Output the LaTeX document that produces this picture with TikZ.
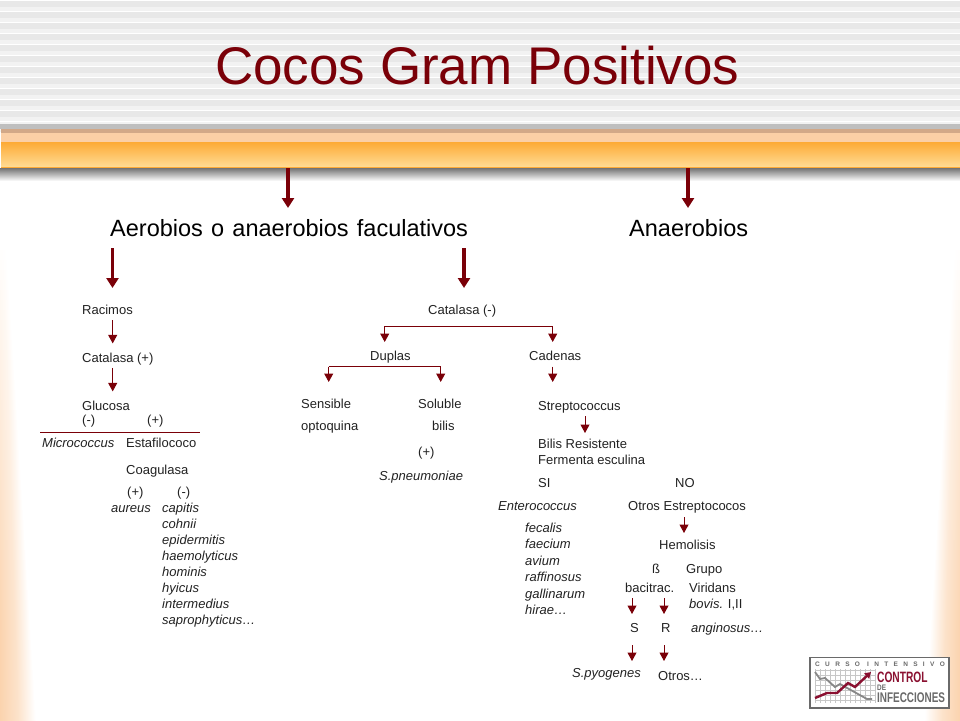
\documentclass[tikz,border=0pt]{standalone}
\usepackage{fontspec}
\setmainfont{Liberation Sans}
\usetikzlibrary{arrows.meta}
\definecolor{dred}{HTML}{7A0008}
\definecolor{peach}{HTML}{FBD3AE}
\definecolor{ink}{HTML}{222222}
\definecolor{bandA}{HTML}{D2A888}
\definecolor{bandB}{HTML}{FBCFA6}
\definecolor{bandC}{HTML}{FDAA35}
\definecolor{bandD}{HTML}{FFDC95}
\definecolor{logogray}{HTML}{6A6A6A}
\definecolor{logored}{HTML}{8A1030}
\tikzset{
 txt/.style={anchor=base west,inner sep=0pt,text=ink,font=\fontsize{13}{15}\selectfont},
 itx/.style={anchor=base west,inner sep=0pt,text=ink,font=\fontsize{13}{15}\selectfont\itshape},
 head/.style={anchor=base west,inner sep=0pt,text=black,font=\fontsize{23.5}{28}\selectfont},
 arr/.style={draw=dred,line width=1pt,-{Triangle[width=9pt,length=8.5pt]}},
 bigarr/.style={draw=dred,line width=3.6pt,-{Triangle[width=12pt,length=10pt]}},
 plainline/.style={draw=dred,line width=1pt}
}
\begin{document}
\begin{tikzpicture}[x=1pt,y=-1pt]
\useasboundingbox (0,0) rectangle (960,720);
\fill[white] (0,0) rectangle (960,720);
% side washes
\foreach \i in {0,...,48}{
  \pgfmathsetmacro{\ya}{240+10*\i}
  \pgfmathsetmacro{\yb}{\ya+10.5}
  \pgfmathsetmacro{\t}{\i/48}
  \pgfmathsetmacro{\w}{6+30*\t}
  \pgfmathsetmacro{\xr}{960-\w}
  \pgfmathsetmacro{\c}{100*min(1,1.25*\t)}
  \pgfmathsetmacro{\m}{0.65*\c}
  \shade[left color=peach!\c!white,right color=white,middle color=peach!\m!white,draw=none] (0,\ya) rectangle (\w,\yb);
  \shade[left color=white,right color=peach!\c!white,middle color=peach!\m!white,draw=none] (\xr,\ya) rectangle (960,\yb);
}
% header stripes
\foreach \i in {0,...,11}{
  \pgfmathsetmacro{\ys}{\i*11}
  \pgfmathsetmacro{\yp}{\ys+1.3}
  \pgfmathsetmacro{\yq}{\ys+7}
  \pgfmathsetmacro{\yr}{\ys+11}
  \fill[black!9] (0,\yp) rectangle (960,\yq);
  \fill[black!5] (0,\yq) rectangle (960,\yr);
}
\fill[black!5] (0,122.3) rectangle (960,124);
% band
\fill[black!25] (0,124) rectangle (960,129);
\fill[bandA] (1,129) rectangle (960,133);
\fill[bandB] (1,133) rectangle (960,142);
\shade[top color=bandC,bottom color=bandD,draw=none] (1,142) rectangle (960,167);
\fill[bandC] (1,167) rectangle (960,168);
\shade[top color=black!55,bottom color=white,draw=none] (0,168) rectangle (960,181);
% title
\node[anchor=base west,inner sep=0pt,text=dred,font=\fontsize{53}{60}\selectfont] (title) at (215,84) {Cocos Gram Positivos};
% headings
\node[head] (aero) at (110,236) {Aerobios\hspace{1.7pt} o\hspace{1.7pt} anaerobios\hspace{1.7pt} faculativos};
\node[head] (anae) at (629,236) {Anaerobios};
\coordinate (barA) at (288,168);
\coordinate (barB) at (688,168);
\coordinate (tipA) at (288,208);
\coordinate (tipB) at (688,208);
\draw[bigarr] (barA) -- (tipA);
\draw[bigarr] (barB) -- (tipB);
% left column
\node[txt] (racimos) at (82,314) {Racimos};
\node[txt] (catpos) at (82,362) {Catalasa (+)};
\node[txt] (glucosa) at (82,410) {Glucosa};
\node[txt] (gneg) at (82,424) {(-)};
\node[txt] (gpos) at (147,424) {(+)};
\coordinate (ruleL) at (40,432.5);
\coordinate (ruleR) at (200,432.5);
\draw[plainline] (ruleL) -- (ruleR);
\node[itx] (micro) at (42,447) {Micrococcus};
\node[txt] (estaf) at (126,447) {Estafilococo};
\node[txt] (coag) at (126,474) {Coagulasa};
\node[txt] (cpos) at (127,496) {(+)};
\node[txt] (cneg) at (177,496) {(-)};
\node[itx] (aureus) at (111,512) {aureus};
\node[itx] (capitis) at (162,512) {capitis};
\node[itx] (cohnii) at (162,528) {cohnii};
\node[itx] (epid) at (162,544) {epidermitis};
\node[itx] (haem) at (162,560) {haemolyticus};
\node[itx] (homi) at (162,576) {hominis};
\node[itx] (hyic) at (162,592) {hyicus};
\node[itx] (inter) at (162,608) {intermedius};
\node[itx] (sapro) at (162,624) {saprophyticus…};
% middle column
\node[txt] (catneg) at (428,314) {Catalasa (-)};
\node[txt] (duplas) at (370,360) {Duplas};
\node[txt] (cadenas) at (529,360) {Cadenas};
\node[txt] (sens) at (301,408) {Sensible};
\node[txt] (solu) at (418,408) {Soluble};
\node[txt] (opto) at (301,430) {optoquina};
\node[txt] (bilis) at (432,430) {bilis};
\node[txt] (bpos) at (418,456) {(+)};
\node[itx] (pneu) at (379,480) {S.pneumoniae};
% right column
\node[txt] (strep) at (538,410) {Streptococcus};
\node[txt] (bres) at (538,448) {Bilis Resistente};
\node[txt] (ferm) at (538,464) {Fermenta esculina};
\node[txt] (si) at (538,487) {SI};
\node[txt] (no) at (675,487) {NO};
\node[itx] (ente) at (498,510) {Enterococcus};
\node[txt] (otrosE) at (628,510) {Otros Estreptococos};
\node[itx] (feca) at (525,532) {fecalis};
\node[itx] (faec) at (525,548) {faecium};
\node[itx] (aviu) at (525,565) {avium};
\node[itx] (raff) at (525,581) {raffinosus};
\node[itx] (gall) at (525,598) {gallinarum};
\node[itx] (hira) at (525,614) {hirae…};
\node[txt] (hemo) at (659,549) {Hemolisis};
\node[txt] (beta) at (652,573) {ß};
\node[txt] (grupo) at (686,573) {Grupo};
\node[txt] (baci) at (625,592) {bacitrac.};
\node[txt] (viri) at (689,592) {Viridans};
\node[txt] (bovis) at (689,608) {\textit{bovis.} I,II};
\node[txt] (ess) at (630,632) {S};
\node[txt] (err) at (661,632) {R};
\node[itx] (angi) at (691,632) {anginosus…};
\node[itx] (pyo) at (572,677) {S.pyogenes};
\node[txt] (otros) at (658,680) {Otros…};
% heading arrows
\coordinate (a1) at (112.5,248);
\coordinate (a2) at (112.5,288);
\coordinate (a3) at (464,248);
\coordinate (a4) at (464,288);
\draw[bigarr] (a1) -- (a2);
\draw[bigarr] (a3) -- (a4);
% small arrows
\coordinate (lx) at (112.7,0);
\draw[arr,shorten <=6pt,shorten >=9pt] (racimos.south -| lx) -- (catpos.north -| lx);
\draw[arr,shorten <=3pt,shorten >=9pt] (catpos.south -| lx) -- (glucosa.north -| lx);
% branch Catalasa (-)
\coordinate (cL) at (384.7,326);
\coordinate (cR) at (552.7,326);
\coordinate (cLe) at (384.7,342);
\coordinate (cRe) at (552.7,342);
\draw[plainline] (cL) -- (cR);
\draw[arr] (cL) -- (cLe);
\draw[arr] (cR) -- (cRe);
% branch Duplas
\coordinate (dL) at (328.7,366.7);
\coordinate (dR) at (440.7,366.7);
\coordinate (dLe) at (328.7,382);
\coordinate (dRe) at (440.7,382);
\draw[plainline] (dL) -- (dR);
\draw[arr] (dL) -- (dLe);
\draw[arr] (dR) -- (dRe);
% Cadenas to Streptococcus
\coordinate (caS) at (552.7,366.7);
\coordinate (caE) at (552.7,382);
\draw[arr] (caS) -- (caE);
\coordinate (stS) at (585,416);
\coordinate (stE) at (585,433);
\draw[arr] (stS) -- (stE);
\coordinate (oeS) at (684,517);
\coordinate (oeE) at (684,533);
\draw[arr] (oeS) -- (oeE);
\coordinate (b1s) at (632,598);
\coordinate (b1e) at (632,614);
\coordinate (b2s) at (664,598);
\coordinate (b2e) at (664,614);
\coordinate (c1s) at (632,645);
\coordinate (c1e) at (632,661);
\coordinate (c2s) at (664,645);
\coordinate (c2e) at (664,661);
\draw[arr] (b1s) -- (b1e);
\draw[arr] (b2s) -- (b2e);
\draw[arr] (c1s) -- (c1e);
\draw[arr] (c2s) -- (c2e);
% logo
\draw[logogray,fill=white,line width=1.3pt] (810,657.5) rectangle (949,708);
\foreach \gx in {815,820,...,875}{\draw[black!22,line width=.4pt] (\gx,669) -- (\gx,703);}
\foreach \gy in {670,675,...,700}{\draw[black!22,line width=.4pt] (815,\gy) -- (875,\gy);}
\draw[logogray!80,line width=1.8pt] (815,672) -- (820,679) -- (825,678) -- (835,687) -- (840,684) -- (867,699) -- (872,699);
\draw[logored,line width=2.4pt,-{Triangle[width=7pt,length=6pt]}] (815,698) -- (827,693) -- (837,693) -- (848,683) -- (855,687) -- (871,672);
\node[anchor=base west,inner sep=0pt,text=logogray,font=\fontsize{6.5}{7}\selectfont\bfseries\addfontfeature{LetterSpace=82}] (lg1) at (815,666) {CURSO INTENSIVO};
\node[anchor=base west,inner sep=0pt,text=logored,font=\fontsize{15}{16}\selectfont\bfseries,xscale=.68] (lg2) at (877,682) {CONTROL};
\node[anchor=base west,inner sep=0pt,text=logogray,font=\fontsize{8}{9}\selectfont\bfseries,xscale=.8] (lg3) at (877,690.5) {DE};
\node[anchor=base west,inner sep=0pt,text=logogray,font=\fontsize{14}{15}\selectfont\bfseries,xscale=.71] (lg4) at (877,702.5) {INFECCIONES};
\end{tikzpicture}
\end{document}
